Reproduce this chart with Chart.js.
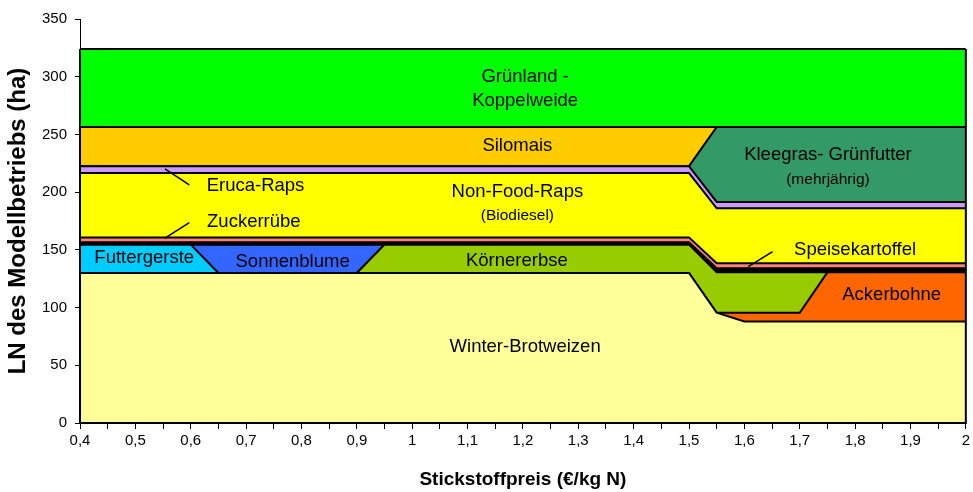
<!DOCTYPE html>
<html>
<head>
<meta charset="utf-8">
<script src="https://cdn.jsdelivr.net/npm/chart.js@4.4.1/dist/chart.umd.min.js"></script>
<style>
  html, body { margin: 0; padding: 0; background: #fff; }
</style>
</head>
<body>
<canvas id="flaechen" width="973" height="492"></canvas>
<script>
// Stickstoffpreis (€/kg N) - Kategorien
const preise = [0.4, 0.45, 0.5, 0.55, 0.6, 0.65, 0.7, 0.75, 0.8, 0.85, 0.9, 0.95, 1.0, 1.05, 1.1, 1.15, 1.2,
  1.25, 1.3, 1.35, 1.4, 1.45, 1.5, 1.55, 1.6, 1.65, 1.7, 1.75, 1.8, 1.85, 1.9, 1.95, 2.0];

// Flaechen in ha (gestapelt, von unten nach oben)
const winterBrotweizen = [130, 130, 130, 130, 130, 130, 130, 130, 130, 130, 130, 130, 130, 130, 130, 130, 130,
  130, 130, 130, 130, 130, 130, 95.5, 88, 88, 88, 88, 88, 88, 88, 88, 88];
const ackerbohne = [0, 0, 0, 0, 0, 0, 0, 0, 0, 0, 0, 0, 0, 0, 0, 0, 0,
  0, 0, 0, 0, 0, 0, 0, 7.5, 7.5, 7.5, 42.5, 42.5, 42.5, 42.5, 42.5, 42.5];
const koernererbse = [0, 0, 0, 0, 0, 0, 0, 0, 0, 0, 0, 24.5, 24.5, 24.5, 24.5, 24.5, 24.5,
  24.5, 24.5, 24.5, 24.5, 24.5, 24.5, 35, 35, 35, 35, 0, 0, 0, 0, 0, 0];
const futtergerste = [24.5, 24.5, 24.5, 24.5, 24.5, 0, 0, 0, 0, 0, 0, 0, 0, 0, 0, 0, 0,
  0, 0, 0, 0, 0, 0, 0, 0, 0, 0, 0, 0, 0, 0, 0, 0];
const sonnenblume = [0, 0, 0, 0, 0, 24.5, 24.5, 24.5, 24.5, 24.5, 24.5, 0, 0, 0, 0, 0, 0,
  0, 0, 0, 0, 0, 0, 0, 0, 0, 0, 0, 0, 0, 0, 0, 0];
const sonstige = [2, 2, 2, 2, 2, 2, 2, 2, 2, 2, 2, 2, 2, 2, 2, 2, 2,
  2, 2, 2, 2, 2, 2, 3.5, 3.5, 3.5, 3.5, 3.5, 3.5, 3.5, 3.5, 3.5, 3.5];
const zuckerruebe = [4.3, 4.3, 4.3, 4.3, 4.3, 4.3, 4.3, 4.3, 4.3, 4.3, 4.3, 4.3, 4.3, 4.3, 4.3, 4.3, 4.3,
  4.3, 4.3, 4.3, 4.3, 4.3, 4.3, 4.5, 4.5, 4.5, 4.5, 4.5, 4.5, 4.5, 4.5, 4.5, 4.5];
const nonFoodRaps = [55.7, 55.7, 55.7, 55.7, 55.7, 55.7, 55.7, 55.7, 55.7, 55.7, 55.7, 55.7, 55.7, 55.7, 55.7, 55.7, 55.7,
  55.7, 55.7, 55.7, 55.7, 55.7, 55.7, 47.5, 47.5, 47.5, 47.5, 47.5, 47.5, 47.5, 47.5, 47.5, 47.5];
const erucaRaps = [6, 6, 6, 6, 6, 6, 6, 6, 6, 6, 6, 6, 6, 6, 6, 6, 6,
  6, 6, 6, 6, 6, 6, 5.5, 5.5, 5.5, 5.5, 5.5, 5.5, 5.5, 5.5, 5.5, 5.5];
const kleegras = [0, 0, 0, 0, 0, 0, 0, 0, 0, 0, 0, 0, 0, 0, 0, 0, 0,
  0, 0, 0, 0, 0, 0, 65, 65, 65, 65, 65, 65, 65, 65, 65, 65];
const silomais = [34, 34, 34, 34, 34, 34, 34, 34, 34, 34, 34, 34, 34, 34, 34, 34, 34,
  34, 34, 34, 34, 34, 34, 0, 0, 0, 0, 0, 0, 0, 0, 0, 0];
const gruenland = [67.5, 67.5, 67.5, 67.5, 67.5, 67.5, 67.5, 67.5, 67.5, 67.5, 67.5, 67.5, 67.5, 67.5, 67.5, 67.5, 67.5,
  67.5, 67.5, 67.5, 67.5, 67.5, 67.5, 67.5, 67.5, 67.5, 67.5, 67.5, 67.5, 67.5, 67.5, 67.5, 67.5];

const serien = [
  ['Winter-Brotweizen', winterBrotweizen, '#FFFF99'],
  ['Ackerbohne', ackerbohne, '#FF6600'],
  ['Körnererbse', koernererbse, '#99CC00'],
  ['Futtergerste', futtergerste, '#00CCFF'],
  ['Sonnenblume', sonnenblume, '#3366FF'],
  ['Sonstige', sonstige, '#000000'],
  ['Zuckerrübe / Speisekartoffel', zuckerruebe, '#FF8080'],
  ['Non-Food-Raps', nonFoodRaps, '#FFFF00'],
  ['Eruca-Raps', erucaRaps, '#CC99FF'],
  ['Kleegras- Grünfutter', kleegras, '#339966'],
  ['Silomais', silomais, '#FFCC00'],
  ['Grünland - Koppelweide', gruenland, '#00FF00'],
];

// Beschriftungen im Diagramm (Datenkoordinaten)
const beschriftungen = [
  ['Grünland -', 1.204, 299.8, 18.5],
  ['Koppelweide', 1.204, 279, 18.5],
  ['Silomais', 1.19, 240, 18.5],
  ['Non-Food-Raps', 1.19, 200.2, 18.5],
  ['(Biodiesel)', 1.19, 179.4, 15.5],
  ['Kleegras- Grünfutter', 1.751, 232.2, 18.5],
  ['(mehrjährig)', 1.751, 210.6, 15.5],
  ['Eruca-Raps', 0.717, 205.6, 18.5],
  ['Zuckerrübe', 0.714, 174.4, 18.5],
  ['Futtergerste', 0.516, 143, 18.5],
  ['Sonnenblume', 0.784, 139.5, 18.5],
  ['Körnererbse', 1.189, 140.6, 18.5],
  ['Speisekartoffel', 1.80, 149.9, 18.5],
  ['Ackerbohne', 1.866, 110.9, 18.5],
  ['Winter-Brotweizen', 1.204, 65.9, 18.5],
];
const zeiger = [
  [0.5535, 220.1, 0.5974, 206.2],
  [0.5974, 173.6, 0.5535, 160.1],
  [1.651, 148.4, 1.607, 135.4],
];

const datasets = serien.map(([label, werte, farbe], i) => ({
  label: label,
  data: preise.map((x, j) => ({ x: x, y: werte[j] })),
  backgroundColor: farbe,
  borderColor: '#000',
  borderWidth: 2,
  borderJoinStyle: 'miter',
  fill: i === 0 ? 'origin' : '-1',
  pointRadius: 0,
  tension: 0,
}));

const textPlugin = {
  id: 'texte',
  afterDatasetsDraw(chart) {
    const { ctx, scales: { x, y } } = chart;
    ctx.save();
    // Umrandung links/rechts/unten wie bei Excel-Flaechen
    const summe = serien.reduce((s, r) => s + r[1][r[1].length - 1], 0);
    const summeL = serien.reduce((s, r) => s + r[1][0], 0);
    ctx.strokeStyle = '#000';
    ctx.lineWidth = 2;
    ctx.beginPath();
    ctx.moveTo(x.getPixelForValue(preise[0]), y.getPixelForValue(summeL));
    ctx.lineTo(x.getPixelForValue(preise[0]), y.getPixelForValue(0));
    ctx.lineTo(x.getPixelForValue(preise[preise.length - 1]), y.getPixelForValue(0));
    ctx.lineTo(x.getPixelForValue(preise[preise.length - 1]), y.getPixelForValue(summe));
    ctx.stroke();

    ctx.lineWidth = 1.5;
    zeiger.forEach(([x1, y1, x2, y2]) => {
      ctx.beginPath();
      ctx.moveTo(x.getPixelForValue(x1), y.getPixelForValue(y1));
      ctx.lineTo(x.getPixelForValue(x2), y.getPixelForValue(y2));
      ctx.stroke();
    });

    ctx.fillStyle = '#000';
    ctx.textAlign = 'center';
    ctx.textBaseline = 'middle';
    beschriftungen.forEach(([t, px, py, size]) => {
      ctx.font = size + 'px "Liberation Sans", Arial, sans-serif';
      ctx.fillText(t, x.getPixelForValue(px), y.getPixelForValue(py));
    });
    ctx.restore();
  }
};

const config = {
  type: 'line',
  data: { datasets: datasets },
  options: {
    responsive: false,
    animation: false,
    layout: { padding: { top: 19, right: 7, left: 0, bottom: 0 } },
    plugins: {
      legend: { display: false },
      tooltip: { enabled: false },
    },
    scales: {
      x: {
        type: 'linear',
        min: 0.4,
        max: 2,
        border: { color: '#000', width: 1 },
        grid: { drawOnChartArea: false, drawTicks: true, tickLength: 6, tickColor: '#000' },
        ticks: {
          stepSize: 0.05,
          maxTicksLimit: 100,
          autoSkip: false,
          maxRotation: 0,
          padding: 3,
          color: '#000',
          font: { family: '"Liberation Sans", Arial, sans-serif', size: 15 },
          callback: (v) => {
            const h = Math.round(v * 100);
            if (h % 10 !== 0) return '';
            return String(h / 100).replace('.', ',');
          }
        },
        title: {
          display: true,
          text: 'Stickstoffpreis (€/kg N)',
          color: '#000',
          font: { family: '"Liberation Sans", Arial, sans-serif', size: 19, weight: 'bold' },
          padding: { top: 0, bottom: 1 }
        },
        afterFit: (s) => { s.height = 69; }
      },
      y: {
        stacked: true,
        min: 0,
        max: 350,
        border: { color: '#000', width: 1 },
        grid: { drawOnChartArea: false, drawTicks: true, tickLength: 5, tickColor: '#000' },
        ticks: {
          stepSize: 50,
          padding: 8,
          color: '#000',
          font: { family: '"Liberation Sans", Arial, sans-serif', size: 15 }
        },
        title: {
          display: true,
          text: 'LN des Modellbetriebs (ha)',
          color: '#000',
          font: { family: '"Liberation Sans", Arial, sans-serif', size: 24, weight: 'bold' },
          padding: { top: 4, bottom: 0 }
        },
        afterFit: (s) => { s.width = 80; }
      }
    }
  },
  plugins: [textPlugin]
};

const flaechenChart = new Chart(document.getElementById('flaechen'), config);
</script>
</body>
</html>
